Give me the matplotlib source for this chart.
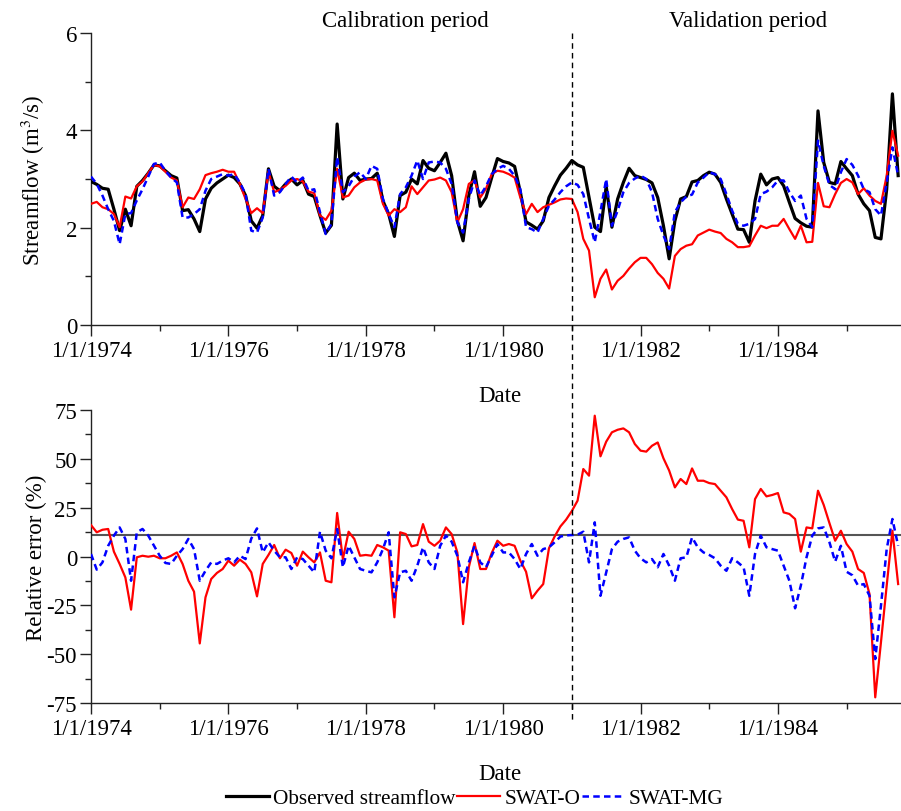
import numpy as np
import matplotlib
matplotlib.use("Agg")
import matplotlib.pyplot as plt
from matplotlib.lines import Line2D

plt.rcParams['font.family'] = ['Liberation Serif', 'DejaVu Serif']
plt.rcParams['mathtext.fontset'] = 'stix'
plt.rcParams['axes.unicode_minus'] = False

# monthly values, Jan 1974 .. Oct 1985
start_year = 1974
split_year = 1981
obs = [2.95, 2.89, 2.81, 2.79, 2.38, 1.94, 2.38, 2.04, 2.85, 2.97, 3.12, 3.29,
       3.27, 3.17, 3.07, 3.02, 2.35, 2.37, 2.18, 1.92, 2.59, 2.81, 2.92, 3.00,
       3.08, 3.03, 2.90, 2.66, 2.14, 1.99, 2.25, 3.21, 2.85, 2.76, 2.90, 3.00,
       2.88, 2.97, 2.69, 2.64, 2.25, 1.89, 2.05, 4.13, 2.59, 3.03, 3.12, 2.97,
       3.00, 3.01, 3.12, 2.55, 2.28, 1.82, 2.66, 2.73, 3.00, 2.90, 3.38, 3.22,
       3.17, 3.34, 3.53, 3.07, 2.14, 1.73, 2.66, 3.15, 2.44, 2.62, 3.03, 3.42,
       3.36, 3.33, 3.26, 2.73, 2.12, 2.05, 1.97, 2.14, 2.62, 2.86, 3.08, 3.22,
       3.38, 3.29, 3.24, 2.62, 2.01, 1.92, 2.85, 2.01, 2.59, 2.93, 3.22, 3.07,
       3.03, 2.99, 2.92, 2.62, 2.04, 1.36, 2.14, 2.59, 2.64, 2.94, 2.97, 3.07,
       3.14, 3.10, 2.93, 2.59, 2.28, 1.97, 1.96, 1.70, 2.55, 3.10, 2.88, 3.00,
       3.03, 2.86, 2.52, 2.19, 2.10, 2.03, 2.01, 4.40, 3.34, 2.93, 2.90, 3.36,
       3.21, 3.07, 2.69, 2.49, 2.35, 1.80, 1.77, 2.79, 4.75, 3.07]
swat_o = [2.49, 2.53, 2.42, 2.38, 2.28, 2.01, 2.64, 2.60, 2.85, 2.95, 3.12, 3.29,
          3.26, 3.15, 3.03, 2.97, 2.42, 2.62, 2.59, 2.79, 3.08, 3.12, 3.15, 3.19,
          3.15, 3.15, 2.90, 2.59, 2.30, 2.40, 2.30, 3.15, 2.73, 2.78, 2.86, 2.97,
          3.00, 2.95, 2.74, 2.71, 2.25, 2.16, 2.35, 3.21, 2.62, 2.66, 2.83, 2.93,
          2.99, 3.00, 2.97, 2.49, 2.25, 2.38, 2.32, 2.42, 2.85, 2.69, 2.83, 2.97,
          2.99, 3.03, 2.97, 2.73, 2.11, 2.38, 2.90, 2.97, 2.62, 2.80, 3.10, 3.17,
          3.15, 3.10, 3.03, 2.62, 2.28, 2.49, 2.32, 2.42, 2.47, 2.52, 2.58, 2.60,
          2.59, 2.32, 1.77, 1.53, 0.57, 0.95, 1.14, 0.73, 0.91, 1.01, 1.16, 1.29,
          1.38, 1.38, 1.25, 1.07, 0.95, 0.75, 1.42, 1.56, 1.63, 1.66, 1.84, 1.90,
          1.96, 1.92, 1.89, 1.77, 1.70, 1.60, 1.60, 1.62, 1.84, 2.04, 1.99, 2.04,
          2.04, 2.18, 1.97, 1.77, 2.04, 1.70, 1.71, 2.92, 2.44, 2.42, 2.69, 2.92,
          3.00, 2.93, 2.69, 2.81, 2.66, 2.55, 2.49, 3.07, 3.99, 3.48]
swat_mg = [3.05, 2.90, 2.66, 2.38, 2.14, 1.66, 2.28, 2.30, 2.56, 2.79, 3.05, 3.31,
           3.34, 3.17, 3.03, 2.93, 2.21, 2.21, 2.28, 2.38, 2.76, 3.00, 3.05, 3.10,
           3.07, 3.10, 2.93, 2.69, 1.94, 1.90, 2.21, 3.21, 2.66, 2.73, 2.90, 3.05,
           2.93, 3.03, 2.76, 2.79, 2.32, 1.87, 2.08, 3.45, 2.73, 2.85, 3.05, 3.14,
           3.00, 3.27, 3.21, 2.59, 2.28, 2.01, 2.69, 2.83, 3.07, 3.38, 3.00, 3.34,
           3.36, 3.34, 3.21, 2.90, 2.11, 1.90, 2.59, 2.97, 2.66, 2.85, 3.10, 3.21,
           3.27, 3.21, 3.07, 2.79, 2.01, 1.97, 1.90, 2.18, 2.45, 2.58, 2.73, 2.85,
           2.93, 2.88, 2.69, 2.18, 1.70, 2.33, 3.00, 2.04, 2.35, 2.73, 2.92, 3.01,
           3.07, 3.00, 2.73, 2.18, 1.84, 1.56, 2.32, 2.52, 2.64, 2.68, 2.93, 3.03,
           3.14, 3.10, 3.00, 2.69, 2.35, 2.08, 2.04, 2.08, 2.18, 2.69, 2.74, 2.83,
           2.97, 2.97, 2.73, 2.55, 2.66, 2.18, 2.01, 3.79, 3.27, 2.88, 2.79, 3.14,
           3.41, 3.29, 3.07, 2.79, 2.73, 2.38, 2.25, 2.93, 3.65, 3.07]

# relative error (%)
err_o = [16.1, 12.4, 13.7, 14.1, 2.5, -3.8, -10.7, -27.2, -0.4, 0.4, -0.1, 0.4,
         -0.9, -0.9, 0.4, 2.1, -3.8, -12.4, -18.0, -44.5, -20.9, -11.5, -8.4, -6.4,
         -2.1, -4.7, -1.6, -3.8, -8.1, -20.4, -3.8, 0.8, 5.9, -0.9, 3.5, 1.8,
         -4.7, 2.5, -0.4, -3.0, 2.1, -12.4, -13.2, 22.3, -1.3, 12.7, 9.0, 0.4,
         0.8, 0.4, 5.9, 4.7, 3.0, -31.1, 12.4, 11.5, 5.2, 5.9, 16.6, 7.6,
         5.5, 8.1, 14.9, 11.5, 2.1, -34.6, -5.5, 6.9, -6.4, -6.4, 1.8, 8.1,
         5.5, 6.4, 5.5, -2.1, -7.8, -21.4, -17.5, -14.1, 4.2, 10.3, 15.4, 18.9,
         23.3, 28.6, 44.8, 41.4, 72.1, 51.3, 58.8, 63.6, 64.9, 65.6, 63.6, 57.6,
         54.2, 53.7, 56.7, 58.4, 50.3, 44.0, 35.4, 39.7, 37.1, 45.1, 38.8, 38.8,
         37.6, 37.1, 33.7, 30.3, 24.3, 18.9, 18.3, 4.7, 29.4, 34.6, 30.8, 31.5,
         32.5, 22.6, 21.8, 19.2, 2.5, 14.9, 14.4, 33.7, 26.4, 17.1, 8.1, 13.2,
         6.4, 2.5, -6.4, -8.4, -19.2, -72.1, -43.9, -14.9, 13.2, -14.1]
err_mg = [1.3, -6.7, -3.0, 5.5, 10.7, 14.9, 9.0, -12.4, 12.4, 14.1, 10.7, 5.5,
          0.4, -3.3, -3.8, 0.4, 3.8, 9.0, 3.8, -12.4, -7.3, -3.0, -3.8, -2.1,
          -0.9, -3.0, 0.4, -1.3, 9.2, 14.4, 2.1, 7.3, 3.0, -0.4, -0.4, -6.4,
          -0.4, -1.3, -4.7, -8.1, 12.7, 3.0, -0.9, 14.1, -5.5, 5.5, -0.4, -6.4,
          -7.3, -8.1, -3.0, 3.8, 12.4, -20.9, -8.1, -7.3, -12.4, -4.7, 4.7, -3.0,
          -6.4, 5.5, 10.7, 7.6, 0.4, -13.2, -3.0, 5.5, -3.0, -5.5, 0.4, 6.4,
          2.1, 2.1, -1.3, -6.4, 1.3, 6.4, 0.4, 3.8, 4.7, 7.3, 10.2, 10.8,
          11.0, 11.2, 12.7, -3.0, 17.5, -20.1, -8.1, 3.8, 7.6, 9.0, 9.8, 3.0,
          -0.9, -3.0, -1.3, -5.5, 1.3, -4.7, -12.4, -0.9, -0.4, 9.8, 4.7, 2.1,
          0.8, -0.9, -4.7, -7.3, -0.9, -3.0, -5.5, -20.1, 1.3, 10.7, 4.7, 3.8,
          3.0, -4.7, -12.4, -26.5, -14.9, -0.4, 10.7, 14.4, 14.9, 7.3, -2.6, 5.5,
          -7.8, -9.6, -14.9, -14.1, -20.1, -52.5, -25.2, 3.8, 19.2, 5.5]
err_ref = 11

t = start_year + np.arange(len(obs)) / 12.0
xmax = start_year + (len(obs) - 0.5) / 12.0
major_years = [1974, 1976, 1978, 1980, 1982, 1984]
minor_years = [1975, 1977, 1979, 1981, 1983, 1985]

fs = 16.5
fig = plt.figure(figsize=(9.01, 8.12), dpi=100)
ax1 = fig.add_axes([0.101, 0.5985, 0.899, 0.3596])
ax2 = fig.add_axes([0.101, 0.1330, 0.899, 0.3608])

dash_mg = (2.6, 1.7)
l1, = ax1.plot(t, obs, color='black', lw=2.3, label='Observed streamflow', zorder=3)
l2, = ax1.plot(t, swat_o, color='#ff0000', lw=1.6, label='SWAT-O', zorder=4)
l3, = ax1.plot(t, swat_mg, color='#0000ff', lw=1.8, dashes=dash_mg, label='SWAT-MG', zorder=5)

ax2.axhline(err_ref, color='#555555', lw=1.5, zorder=1)
ax2.plot(t, err_o, color='#ff0000', lw=1.6, zorder=4)
ax2.plot(t, err_mg, color='#0000ff', lw=1.8, dashes=dash_mg, zorder=5)

ax1.set_ylim(0, 6)
ax1.set_yticks([0, 2, 4, 6])
ax1.set_yticks([1, 3, 5], minor=True)
ax2.set_ylim(-75, 75)
ax2.set_yticks([-75, -50, -25, 0, 25, 50, 75])
ax2.set_yticks(np.arange(-62.5, 75, 25), minor=True)

for ax in (ax1, ax2):
    ax.set_xlim(start_year, xmax)
    ax.set_xticks(major_years)
    ax.set_xticklabels(['1/1/%d' % y for y in major_years])
    ax.set_xticks(minor_years, minor=True)
    for s in ('top', 'right'):
        ax.spines[s].set_visible(False)
    for s in ('left', 'bottom'):
        ax.spines[s].set_linewidth(1.0)
        ax.spines[s].set_color('#222222')
    ax.tick_params(which='major', direction='out', length=8, width=1, labelsize=fs,
                   pad=3, color='#222222')
    ax.tick_params(axis='y', which='major', pad=2)
    ax.tick_params(which='minor', direction='out', length=4.5, width=1, color='#222222')
    ax.set_xlabel('Date', fontsize=fs)
    ax.xaxis.set_label_coords(0.505, -0.205)
    ax.yaxis.set_label_coords(-0.054, 0.5)

ax1.set_ylabel('Streamflow (m$^3$/s)', fontsize=fs)
ax2.set_ylabel('Relative error (%)', fontsize=fs)

ax1.text(1978.57, 6.25, 'Calibration period', fontsize=fs, ha='center', va='center')
ax1.text(1983.56, 6.25, 'Validation period', fontsize=fs, ha='center', va='center')

# dashed split line running through both panels
x_fig = 0.101 + 0.899 * (split_year - start_year) / (xmax - start_year)
fig.add_artist(Line2D([x_fig, x_fig], [0.9581, 0.112], transform=fig.transFigure,
                      color='black', lw=1.0, linestyle=(0, (4, 3)), zorder=10))

fig.legend(handles=[l1, l2, l3], loc='center', bbox_to_anchor=(0.527, 0.016),
           ncol=3, frameon=False, fontsize=15.3, handlelength=2.0,
           handletextpad=0.2, columnspacing=0.1, borderaxespad=0)

fig.savefig('out.png', dpi=100)
